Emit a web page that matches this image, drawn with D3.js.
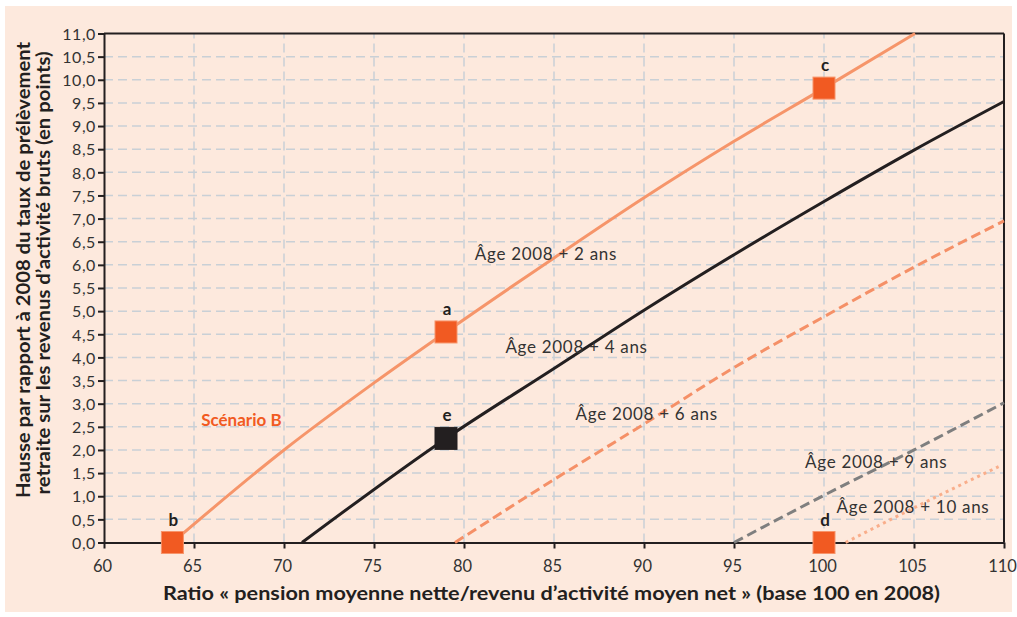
<!DOCTYPE html>
<html>
<head>
<meta charset="utf-8">
<script src="https://cdn.jsdelivr.net/npm/d3@7"></script>
<style>
    body { margin: 0; background: white; }
    svg text { font-family: Lato, "Open Sans", sans-serif; fill: #231f20; }
</style>
</head>
<body>
<div id="chart"></div>
<script>

// courbes : [ratio, hausse du taux]
var age2 = [[63.8, 0], [70, 2.0], [75, 3.45], [79, 4.55], [85, 6.15], [90, 7.45], [95, 8.67], [100, 9.82], [105.06, 11.0]];
var age4 = [[71.0, 0], [79, 2.25], [85, 3.76], [90, 5.02], [95, 6.22], [100, 7.37], [105, 8.48], [110, 9.53]];
var age6 = [[79.5, 0], [85, 1.36], [90, 2.56], [95, 3.78], [100, 4.88], [105, 5.95], [110, 6.95]];
var age9 = [[95, 0], [100, 1.02], [105, 2.0], [110, 3.02]];
var age10 = [[101.2, 0], [105, 0.75], [109.7, 1.64]];

var points = [
    {name: "a", x: 79, y: 4.55, dark: false},
    {name: "b", x: 63.8, y: 0, dark: false},
    {name: "c", x: 100, y: 9.82, dark: false},
    {name: "d", x: 100, y: 0, dark: false},
    {name: "e", x: 79, y: 2.25, dark: true}
];

var xTicks = [60, 65, 70, 75, 80, 85, 90, 95, 100, 105, 110];
var yTicks = d3.range(0, 11.01, 0.5);

var labels = [
    {text: "Âge 2008  + 2 ans", x: 80.6, y: 6.1},
    {text: "Âge 2008 +  4 ans", x: 82.3, y: 4.1},
    {text: "Âge 2008 + 6 ans", x: 86.2, y: 2.65},
    {text: "Âge 2008 + 9 ans", x: 98.95, y: 1.61},
    {text: "Âge 2008 + 10 ans", x: 100.7, y: 0.64}
];

var width = 1017, height = 617;
var margin = {left: 104, right: 13, top: 33.5, bottom: 74.5};

var svg = d3.select("#chart").append("svg")
    .attr("width", width)
    .attr("height", height);

// fond
svg.append("rect")
    .attr("x", 5).attr("y", 6)
    .attr("width", 1007).attr("height", 606)
    .attr("fill", "#fde9dd");

var x = d3.scaleLinear().domain([60, 110]).range([margin.left, width - margin.right]);
var y = d3.scaleLinear().domain([0, 11]).range([height - margin.bottom, margin.top]);

// grille
svg.append("g").selectAll("line")
    .data(yTicks.filter(function (d) { return d > 0 && d < 11; }))
    .enter().append("line")
    .attr("x1", x(60)).attr("x2", x(110))
    .attr("y1", function (d) { return y(d); })
    .attr("y2", function (d) { return y(d); })
    .attr("stroke", "#c9d0d6")
    .attr("stroke-width", 1.5)
    .attr("stroke-dasharray", "9,5");

svg.append("g").selectAll("line")
    .data(xTicks.filter(function (d) { return d > 60 && d < 110; }))
    .enter().append("line")
    .attr("x1", function (d) { return x(d); })
    .attr("x2", function (d) { return x(d); })
    .attr("y1", y(0)).attr("y2", y(11))
    .attr("stroke", "#c9d0d6")
    .attr("stroke-width", 1.5)
    .attr("stroke-dasharray", "9,5");

// cadre haut / droite
svg.append("line")
    .attr("x1", x(60)).attr("x2", x(110))
    .attr("y1", y(11)).attr("y2", y(11))
    .attr("stroke", "#231f20").attr("stroke-width", 2);
svg.append("line")
    .attr("x1", x(110)).attr("x2", x(110))
    .attr("y1", y(0)).attr("y2", y(11))
    .attr("stroke", "#231f20").attr("stroke-width", 2);

// axes
var xAxis = d3.axisBottom(x).tickValues(xTicks).tickSize(6).tickSizeOuter(0)
    .tickFormat(d3.format("d"));
var yAxis = d3.axisLeft(y).tickValues(yTicks).tickSize(6).tickSizeOuter(0)
    .tickFormat(function (d) { return d.toFixed(1).replace(".", ","); });

var gx = svg.append("g")
    .attr("transform", "translate(0," + y(0) + ")")
    .call(xAxis);
gx.selectAll("text").attr("dy", null).attr("y", 29).attr("x", -2)
    .style("font-size", "16.5px").style("fill", "#333");

var gy = svg.append("g")
    .attr("transform", "translate(" + x(60) + ",0)")
    .call(yAxis);
gy.selectAll("text").attr("x", -8).attr("dy", "0.36em")
    .style("font-size", "16px").style("letter-spacing", "0.6px").style("fill", "#333");

svg.selectAll(".domain, .tick line")
    .attr("stroke", "#231f20").attr("stroke-width", 2);

// courbes
var line = d3.line()
    .x(function (d) { return x(d[0]); })
    .y(function (d) { return y(d[1]); })
    .curve(d3.curveMonotoneX);

var series = [
    {data: age10, color: "#f9ae8b", dash: "3,4"},
    {data: age9, color: "#7f7f7f", dash: "10,5"},
    {data: age6, color: "#f59067", dash: "10,5"},
    {data: age4, color: "#231f20", dash: null},
    {data: age2, color: "#f6956a", dash: null}
];

series.forEach(function (s) {
    svg.append("path")
        .datum(s.data)
        .attr("d", line)
        .attr("fill", "none")
        .attr("stroke", s.color)
        .attr("stroke-width", 3)
        .attr("stroke-dasharray", s.dash);
});

// points a..e
var sz = 22;
var pts = svg.append("g").selectAll("g")
    .data(points)
    .enter().append("g");

pts.append("rect")
    .attr("x", function (d) { return x(d.x) - sz / 2; })
    .attr("y", function (d) { return y(d.y) - sz / 2; })
    .attr("width", sz).attr("height", sz)
    .attr("fill", function (d) { return d.dark ? "#231f20" : "#f15a22"; })
    .attr("stroke", function (d) { return d.dark ? "#231f20" : "#f7946a"; })
    .attr("stroke-width", 1);

pts.append("text")
    .attr("x", function (d) { return x(d.x) + 1; })
    .attr("y", function (d) { return y(d.y) - sz / 2 - 6; })
    .attr("text-anchor", "middle")
    .style("font-size", "17px")
    .style("font-weight", "bold")
    .text(function (d) { return d.name; });

// libellés
svg.append("g").selectAll("text")
    .data(labels)
    .enter().append("text")
    .attr("x", function (d) { return x(d.x); })
    .attr("y", function (d) { return y(d.y); })
    .style("font-size", "17px")
    .style("letter-spacing", "0.7px")
    .style("fill", "#333")
    .text(function (d) { return d.text; });

svg.append("text")
    .attr("x", x(65.4)).attr("y", y(2.52))
    .style("font-size", "17px")
    .style("font-weight", "bold")
    .style("fill", "#f15a22")
    .text("Scénario B");

// titres d'axes
svg.append("text")
    .attr("x", 163).attr("y", 600)
    .attr("textLength", 777)
    .attr("lengthAdjust", "spacingAndGlyphs")
    .style("font-size", "18px")
    .style("font-weight", "bold")
    .text("Ratio « pension moyenne nette/revenu d’activité moyen net » (base 100 en 2008)");

var yt = svg.append("g")
    .attr("transform", "translate(30,270) rotate(-90)");
yt.append("text")
    .attr("x", 0).attr("y", 0)
    .attr("text-anchor", "middle")
    .attr("textLength", 456)
    .attr("lengthAdjust", "spacingAndGlyphs")
    .style("font-size", "18px")
    .style("font-weight", "bold")
    .text("Hausse par rapport à 2008 du taux de prélèvement");
yt.append("text")
    .attr("x", -3).attr("y", 20)
    .attr("text-anchor", "middle")
    .attr("textLength", 443)
    .attr("lengthAdjust", "spacingAndGlyphs")
    .style("font-size", "18px")
    .style("font-weight", "bold")
    .text("retraite sur les revenus d’activité bruts (en points)");

</script>
</body>
</html>
